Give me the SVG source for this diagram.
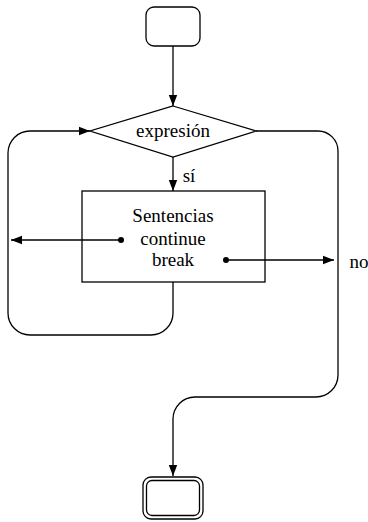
<svg xmlns="http://www.w3.org/2000/svg" width="368" height="522" viewBox="0 0 368 522">
<style>
.s{fill:none;stroke:#000;stroke-width:1.3}
.n{fill:#fff;stroke:#000;stroke-width:1.3}
.t{font-family:"Liberation Serif","Times New Roman",serif;font-size:19px;fill:#000;text-anchor:middle}
</style>
<defs>
<marker id="a" markerUnits="userSpaceOnUse" markerWidth="12" markerHeight="10" refX="11" refY="5" orient="auto">
<path d="M0,0.8 L11,5 L0,9.2 Z" fill="#000"/>
</marker>
</defs>
<rect width="368" height="522" fill="#fff"/>
<g id="start">
<rect class="n" x="146" y="7" width="54" height="39" rx="8"/>
</g>
<g id="cond">
<polygon class="n" points="173,106 256,131 173,157 90,131"/>
<text class="t" x="173" y="137">expresión</text>
</g>
<g id="body">
<rect class="n" x="82" y="191" width="183" height="91"/>
<text class="t" x="173" y="222">Sentencias</text>
<text class="t" x="173" y="245">continue</text>
<text class="t" x="173" y="266">break</text>
</g>
<g id="end">
<rect class="n" x="143" y="477" width="60" height="42" rx="8"/>
<rect class="n" x="146.5" y="480.5" width="53" height="35" rx="5.5"/>
</g>
<g id="connectors">
<path class="s" d="M173,46 V106" marker-end="url(#a)"/>
<path class="s" d="M173,157 V191" marker-end="url(#a)"/>
<path class="s" d="M173,282 V313 A22,22 0 0 1 151,335 H30 A22,22 0 0 1 8,313 V153 A22,22 0 0 1 30,131 H90" marker-end="url(#a)"/>
<path class="s" d="M256,131 H318 A20,20 0 0 1 338,151 V375 A22,22 0 0 1 316,397 H195 A22,22 0 0 0 173,419 V476" marker-end="url(#a)"/>
<path class="s" d="M121,240 H11" marker-end="url(#a)"/>
<path class="s" d="M226,260 H334" marker-end="url(#a)"/>
<circle cx="121" cy="240" r="3" fill="#000"/>
<circle cx="226" cy="260" r="3" fill="#000"/>
<text class="t" x="189" y="182">sí</text>
<text class="t" x="359" y="268">no</text>
</g>
</svg>
